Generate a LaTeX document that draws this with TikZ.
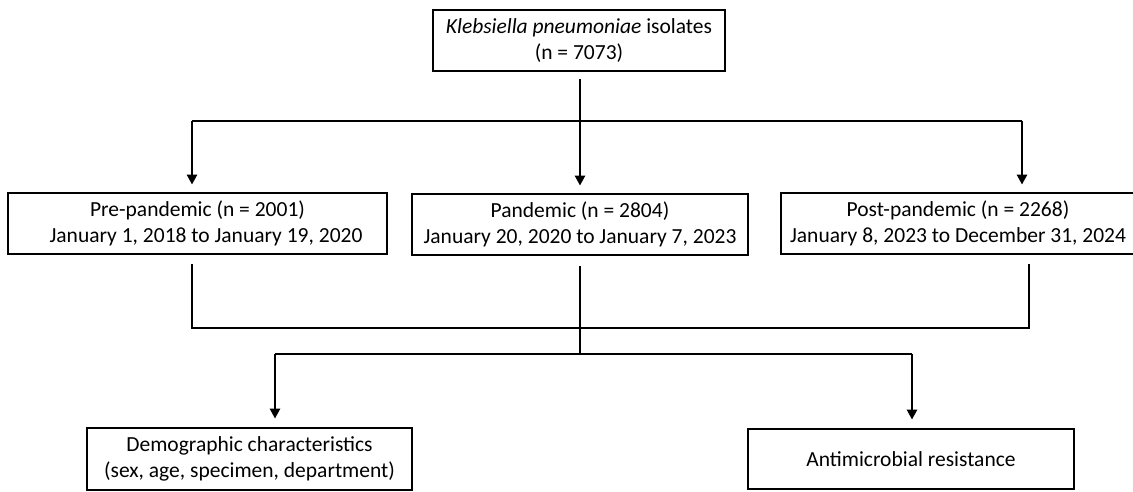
\documentclass[tikz,border=0pt]{standalone}
\usepackage{fontspec}
\setmainfont{Carlito}
\usetikzlibrary{arrows.meta}
\tikzset{
  box/.style={draw, line width=2.8pt, inner sep=0pt, align=center,
    font=\fontsize{21.5}{26}\selectfont},
  conn/.style={line width=2.8pt},
  arr/.style={line width=2.8pt, -{Triangle[length=10pt,width=10pt]}}
}
\begin{document}
\begin{tikzpicture}[x=1pt,y=-1pt]
\useasboundingbox (0,0) rectangle (1133,491);
% boxes
\node[box, minimum width=292pt, minimum height=61pt] (top) at (579,40.5)
  {\textit{Klebsiella pneumoniae} isolates\\(n = 7073)};
\node[box, minimum width=379pt, minimum height=61pt] (pre) at (197.5,223.5)
  {Pre-pandemic (n = 2001)\\\hspace*{17pt}January 1, 2018 to January 19, 2020};
\node[box, minimum width=336pt, minimum height=61pt] (pan) at (580,224.5)
  {Pandemic (n = 2804)\\January 20, 2020 to January 7, 2023};
\node[box, minimum width=354pt, minimum height=61pt] (post) at (958,223.5)
  {Post-pandemic (n = 2268)\\January 8, 2023 to December 31, 2024};
\node[box, minimum width=325pt, minimum height=62pt] (demo) at (249.5,459)
  {Demographic characteristics\\(sex, age, specimen, department)};
\node[box, minimum width=326pt, minimum height=60pt] (amr) at (911,459)
  {Antimicrobial resistance};
% junction coordinates
\coordinate (j1) at (580,121);
\coordinate (a1) at (192,121);
\coordinate (a3) at (1022,121);
\coordinate (b1) at (192,328);
\coordinate (j2) at (580,328);
\coordinate (b3) at (1029,328);
\coordinate (j3) at (580,354);
\coordinate (c1) at (275,354);
\coordinate (c2) at (912,354);
% connectors
\draw[conn, shorten <=7pt] (top.south -| j1) -- (j1);
\draw[conn] (a1) -- (a3);
\draw[arr, shorten >=7pt] (a1) -- (a1 |- pre.north);
\draw[arr, shorten >=7pt] (j1) -- (j1 |- pan.north);
\draw[arr, shorten >=7pt] (a3) -- (a3 |- post.north);
\draw[conn, shorten <=9pt, shorten >=9pt] (b1 |- pre.south) -- (b1) -- (b3) -- (b3 |- post.south);
\draw[conn, shorten <=10pt] (j2 |- pan.south) -- (j2);
\draw[conn] (j2) -- (j3);
\draw[conn] (c1) -- (c2);
\draw[arr, shorten >=8pt] (c1) -- (c1 |- demo.north);
\draw[arr, shorten >=8pt] (c2) -- (c2 |- amr.north);
\end{tikzpicture}
\end{document}
